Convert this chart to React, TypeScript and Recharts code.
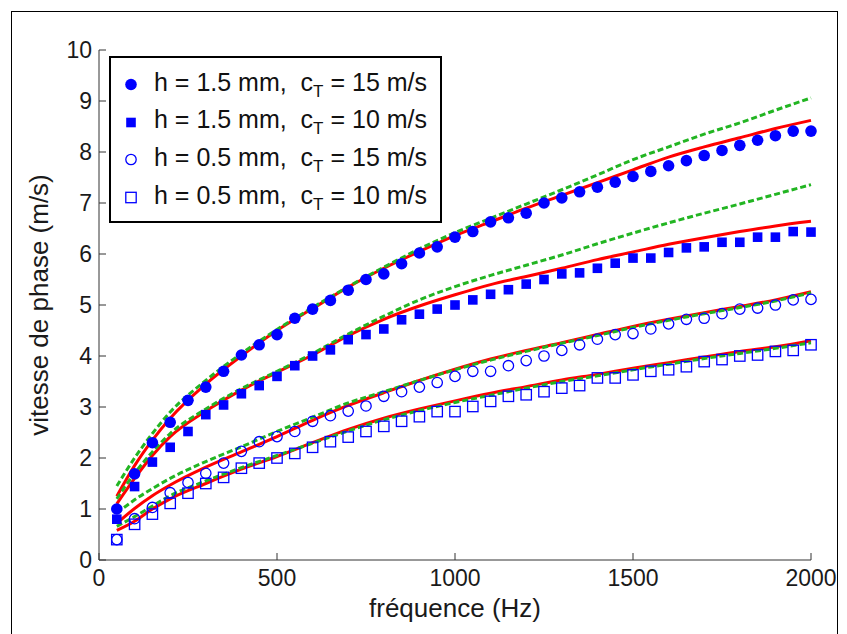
import { ComposedChart, XAxis, YAxis, Line, Scatter, Legend } from "recharts";

// measured points, every 50 Hz
const markerFreq = [
  50, 100, 150, 200, 250, 300, 350, 400, 450, 500, 550, 600, 650, 700, 750, 800, 850, 900, 950, 1000,
  1050, 1100, 1150, 1200, 1250, 1300, 1350, 1400, 1450, 1500, 1550, 1600, 1650, 1700, 1750, 1800, 1850,
  1900, 1950, 2000,
];
const h15c15 = [
  1.0, 1.69, 2.3, 2.7, 3.13, 3.39, 3.7, 4.02, 4.22, 4.42, 4.74, 4.92, 5.09, 5.29, 5.5, 5.61, 5.81, 6.02,
  6.14, 6.33, 6.44, 6.63, 6.71, 6.8, 7.0, 7.1, 7.22, 7.31, 7.41, 7.52, 7.62, 7.73, 7.83, 7.93, 8.03, 8.13,
  8.23, 8.32, 8.41, 8.41,
];
const h15c10 = [
  0.8, 1.44, 1.92, 2.21, 2.52, 2.85, 3.04, 3.26, 3.42, 3.6, 3.81, 4.0, 4.12, 4.32, 4.42, 4.53, 4.71, 4.82,
  4.92, 5.0, 5.1, 5.21, 5.3, 5.41, 5.5, 5.61, 5.63, 5.72, 5.82, 5.92, 5.92, 6.03, 6.12, 6.14, 6.23, 6.23,
  6.33, 6.33, 6.44, 6.43,
];
const h05c15 = [
  0.4, 0.81, 1.03, 1.32, 1.52, 1.7, 1.9, 2.13, 2.32, 2.42, 2.52, 2.72, 2.83, 2.92, 3.02, 3.21, 3.3, 3.39,
  3.48, 3.6, 3.7, 3.7, 3.81, 3.91, 4.0, 4.11, 4.22, 4.33, 4.42, 4.44, 4.53, 4.63, 4.72, 4.74, 4.83, 4.92,
  4.94, 5.0, 5.1, 5.11,
];
const h05c10 = [
  0.4, 0.7, 0.9, 1.11, 1.31, 1.5, 1.62, 1.8, 1.9, 2.0, 2.09, 2.21, 2.32, 2.41, 2.52, 2.62, 2.72, 2.81,
  2.91, 2.91, 3.01, 3.11, 3.21, 3.24, 3.3, 3.37, 3.42, 3.57, 3.57, 3.63, 3.7, 3.73, 3.79, 3.89, 3.93, 4.0,
  4.02, 4.09, 4.11, 4.22,
];

// model curves
const lineFreq = [
  50, 100, 150, 200, 300, 400, 500, 600, 700, 800, 900, 1000, 1100, 1200, 1300, 1400, 1500, 1600, 1700,
  1800, 1900, 2000,
];
const red1 = [1.25, 1.85, 2.35, 2.78, 3.45, 4.0, 4.5, 4.93, 5.35, 5.72, 6.05, 6.36, 6.63, 6.9, 7.15, 7.4, 7.65, 7.9, 8.1, 8.28, 8.46, 8.62];
const green1 = [1.45, 2.0, 2.48, 2.9, 3.52, 4.05, 4.52, 4.95, 5.36, 5.74, 6.1, 6.42, 6.7, 6.98, 7.26, 7.55, 7.85, 8.1, 8.35, 8.57, 8.82, 9.06];
const red2 = [1.1, 1.6, 2.05, 2.42, 2.92, 3.33, 3.68, 4.02, 4.4, 4.72, 4.98, 5.2, 5.4, 5.56, 5.72, 5.89, 6.04, 6.19, 6.32, 6.44, 6.55, 6.64];
const green2 = [1.2, 1.7, 2.12, 2.48, 2.96, 3.36, 3.7, 4.05, 4.43, 4.78, 5.1, 5.36, 5.58, 5.78, 5.98, 6.2, 6.41, 6.61, 6.8, 6.98, 7.17, 7.36];
const red3 = [0.72, 1.01, 1.26, 1.47, 1.82, 2.12, 2.42, 2.74, 3.03, 3.28, 3.52, 3.74, 3.94, 4.11, 4.26, 4.42, 4.58, 4.72, 4.85, 4.97, 5.1, 5.26];
const green3 = [0.92, 1.18, 1.4, 1.6, 1.93, 2.22, 2.52, 2.8, 3.08, 3.3, 3.52, 3.73, 3.92, 4.09, 4.25, 4.4, 4.56, 4.7, 4.83, 4.95, 5.08, 5.24];
const red4 = [0.58, 0.76, 1.0, 1.2, 1.5, 1.78, 2.03, 2.3, 2.56, 2.78, 2.96, 3.12, 3.27, 3.4, 3.53, 3.64, 3.76, 3.87, 3.98, 4.09, 4.18, 4.3];
const green4 = [0.66, 0.85, 1.06, 1.26, 1.55, 1.81, 2.05, 2.29, 2.53, 2.75, 2.93, 3.09, 3.23, 3.37, 3.5, 3.61, 3.73, 3.84, 3.95, 4.05, 4.15, 4.26];

const xTicks = [0, 500, 1000, 1500, 2000];
const yTicks = [0, 1, 2, 3, 4, 5, 6, 7, 8, 9, 10];

const legendRows = [
  { h: "1.5", c: "15", kind: "dot" },
  { h: "1.5", c: "10", kind: "sq" },
  { h: "0.5", c: "15", kind: "odot" },
  { h: "0.5", c: "10", kind: "osq" },
];

const BLUE = "#0000ff";
const RED = "#ff0000";
const GREEN = "#22b522";
const FONT = "'Liberation Sans', Arial, sans-serif";

const pts = (xs: number[], ys: number[]) => xs.map((f, i) => ({ f, v: ys[i] }));

const Marker = ({ kind, cx, cy }: { kind: string; cx: number; cy: number }) => {
  if (kind === "dot") return <circle cx={cx} cy={cy} r={5.8} fill={BLUE} />;
  if (kind === "sq") return <rect x={cx - 4.8} y={cy - 4.8} width={9.6} height={9.6} fill={BLUE} />;
  if (kind === "odot") return <circle cx={cx} cy={cy} r={5.2} fill="none" stroke={BLUE} strokeWidth={1.3} />;
  return <rect x={cx - 5.2} y={cy - 5.2} width={10.4} height={10.4} fill="none" stroke={BLUE} strokeWidth={1.3} />;
};

const LegendBox = () => (
  <div
    style={{
      width: 329,
      height: 163,
      border: "2px solid #000",
      background: "#fff",
      fontFamily: FONT,
      fontSize: 25,
      color: "#111",
      boxSizing: "content-box",
    }}
  >
    {legendRows.map((r, i) => (
      <div key={i} style={{ position: "absolute", left: 0, top: 10 + i * 37.7, height: 37, display: "flex", alignItems: "center" }}>
        <svg width={40} height={37} style={{ marginLeft: 2 }}>
          <Marker kind={r.kind} cx={20} cy={18.5} />
        </svg>
        <span style={{ marginLeft: 3, whiteSpace: "nowrap" }}>
          h = {r.h} mm,&nbsp; c<sub style={{ fontSize: 17, verticalAlign: -6 }}>T</sub> = {r.c} m/s
        </span>
      </div>
    ))}
  </div>
);

export default function App() {
  return (
    <div style={{ position: "absolute", left: 0, top: 0, width: 847, height: 634, background: "#fff" }}>
      <div
        style={{
          position: "absolute",
          left: 11,
          top: 11,
          width: 825,
          height: 640,
          border: "1.5px solid #000",
        }}
      />
      <div style={{ position: "absolute", left: 0, top: 0 }}>
        <ComposedChart width={847} height={634} margin={{ top: 50, right: 36, bottom: 0, left: 0 }}>
          <XAxis
            dataKey="f"
            type="number"
            domain={[0, 2000]}
            ticks={xTicks}
            height={74}
            stroke="#333"
            tickSize={-7}
            tickMargin={17}
            tick={{ fill: "#1a1a1a", fontSize: 23, fontFamily: FONT }}
            label={{
              content: ({ viewBox }: any) => (
                <text
                  x={viewBox.x + viewBox.width / 2}
                  y={viewBox.y + 57}
                  textAnchor="middle"
                  fontSize={26}
                  fontFamily={FONT}
                  fill="#1a1a1a"
                >
                  fréquence (Hz)
                </text>
              ),
            }}
          />
          <XAxis
            xAxisId="top"
            orientation="top"
            dataKey="f"
            type="number"
            domain={[0, 2000]}
            ticks={xTicks}
            height={0}
            stroke="#333"
            tickSize={-7}
            tick={false}
          />
          <YAxis
            type="number"
            domain={[0, 10]}
            ticks={yTicks}
            width={99}
            stroke="#333"
            tickSize={-7}
            tickMargin={14}
            tick={{ fill: "#1a1a1a", fontSize: 23, fontFamily: FONT }}
            label={{
              content: ({ viewBox }: any) => {
                const cy = viewBox.y + viewBox.height / 2;
                return (
                  <text
                    x={39}
                    y={cy}
                    transform={`rotate(-90 39 ${cy})`}
                    textAnchor="middle"
                    dominantBaseline="central"
                    fontSize={26}
                    fontFamily={FONT}
                    fill="#1a1a1a"
                  >
                    vitesse de phase (m/s)
                  </text>
                );
              },
            }}
          />
          <YAxis
            yAxisId="right"
            orientation="right"
            type="number"
            domain={[0, 10]}
            ticks={yTicks}
            width={0}
            stroke="#333"
            tickSize={-7}
            tick={false}
          />
          <Legend
            layout="horizontal"
            verticalAlign="middle"
            align="center"
            wrapperStyle={{ position: "absolute", left: 109, top: 56, width: 333, height: 167 }}
            content={() => <LegendBox />}
          />

          <Scatter data={pts(markerFreq, h15c15)} dataKey="v" isAnimationActive={false} shape={(p: any) => <Marker kind="dot" cx={p.cx} cy={p.cy} />} />
          <Scatter data={pts(markerFreq, h15c10)} dataKey="v" isAnimationActive={false} shape={(p: any) => <Marker kind="sq" cx={p.cx} cy={p.cy} />} />
          <Scatter data={pts(markerFreq, h05c15)} dataKey="v" isAnimationActive={false} shape={(p: any) => <Marker kind="odot" cx={p.cx} cy={p.cy} />} />
          <Scatter data={pts(markerFreq, h05c10)} dataKey="v" isAnimationActive={false} shape={(p: any) => <Marker kind="osq" cx={p.cx} cy={p.cy} />} />

          {[red1, red2, red3, red4].map((ys, i) => (
            <Line key={"r" + i} data={pts(lineFreq, ys)} dataKey="v" type="monotone" stroke={RED} strokeWidth={3} dot={false} legendType="none" isAnimationActive={false} />
          ))}
          {[green1, green2, green3, green4].map((ys, i) => (
            <Line key={"g" + i} data={pts(lineFreq, ys)} dataKey="v" type="monotone" stroke={GREEN} strokeWidth={3} strokeDasharray="6 3" dot={false} legendType="none" isAnimationActive={false} />
          ))}
        </ComposedChart>
      </div>
    </div>
  );
}
